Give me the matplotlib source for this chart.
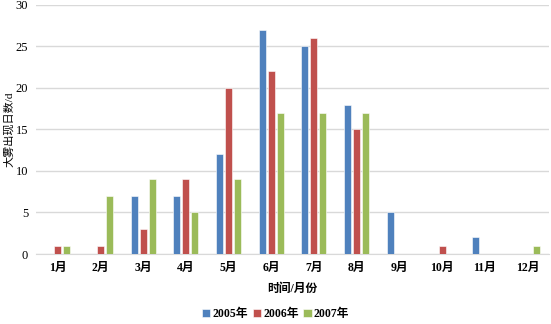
import numpy as np
import matplotlib
matplotlib.use("Agg")
import matplotlib.pyplot as plt

plt.rcParams['font.family'] = ['Liberation Serif', 'Noto Sans CJK SC']

months = ['1月', '2月', '3月', '4月', '5月', '6月', '7月', '8月', '9月', '10月', '11月', '12月']
y2005 = [0, 0, 7, 7, 12, 27, 25, 18, 5, 0, 2, 0]
y2006 = [1, 1, 3, 9, 20, 22, 26, 15, 0, 1, 0, 0]
y2007 = [1, 7, 9, 5, 9, 17, 17, 17, 0, 0, 0, 1]
series = [('2005年', y2005, '#4F81BD'), ('2006年', y2006, '#C0504D'), ('2007年', y2007, '#9BBB59')]

fig = plt.figure(figsize=(5.51, 3.24), dpi=100)
ax = fig.add_axes([0.066, 0.216, 0.93, 0.769])

x = np.arange(len(months))
w = 0.165
step = 0.21
for i, (name, vals, col) in enumerate(series):
    ax.bar(x + (i - 1) * step, vals, width=w, color=col, label=name,
           edgecolor='white', linewidth=0.4, zorder=3)

ax.set_xlim(-0.5, len(months) - 0.5)
ax.set_ylim(0, 30)
ax.set_yticks(range(0, 31, 5))
ax.yaxis.grid(True, color='#d9d9d9', linewidth=1, zorder=0)
ax.set_xticks(x)
ax.set_xticklabels(months, fontsize=8.5, fontweight='bold')
ax.tick_params(axis='y', labelsize=9, length=0, pad=6)
ax.tick_params(axis='x', length=0, pad=6)
for s in ['top', 'right', 'left']:
    ax.spines[s].set_visible(False)
ax.spines['bottom'].set_color('#d9d9d9')

ax.set_ylabel('大雾出现日数/d', fontsize=8)
ax.yaxis.set_label_coords(-0.043, 0.5)
ax.set_xlabel('时间/月份', fontsize=8.5, fontweight='bold', labelpad=6)

fig.legend(*ax.get_legend_handles_labels(), loc='center', bbox_to_anchor=(0.5, 0.03),
           ncol=3, frameon=False, handlelength=0.7, handleheight=0.7, handletextpad=0.2,
           columnspacing=0.4, borderpad=0, prop={'weight': 'bold', 'size': 8.5})

fig.savefig('out.png', dpi=100)
